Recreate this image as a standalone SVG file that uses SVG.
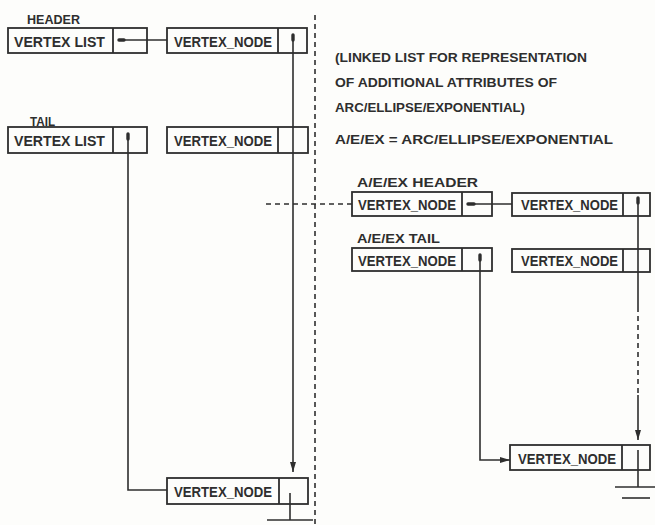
<svg xmlns="http://www.w3.org/2000/svg" width="655" height="525" viewBox="0 0 655 525">
<style>
.bx{fill:none;stroke:#2e2e2e;stroke-width:1.8}
.ln{fill:none;stroke:#2e2e2e;stroke-width:1.6}
.dash{fill:none;stroke:#2e2e2e;stroke-width:1.6;stroke-dasharray:5,4}
.stub{stroke:#2e2e2e;stroke-width:3.4;stroke-linecap:round}
.t{font-family:"Liberation Sans",Arial,sans-serif;font-weight:bold;fill:#2e2e2e}
.bt{font-size:15.5px}
.lb{font-size:13px}
</style>
<defs>
<marker id="ah" viewBox="0 0 10 6" refX="10" refY="3" markerWidth="10" markerHeight="6" markerUnits="userSpaceOnUse" orient="auto">
<path d="M0,0 L10,3 L0,6 Z" fill="#2e2e2e"/>
</marker>
</defs>
<rect width="655" height="525" fill="#fdfdfb"/>

<g id="labels">
<text class="t lb" x="27" y="24" textLength="53" lengthAdjust="spacingAndGlyphs">HEADER</text>
<text class="t lb" x="30" y="126" textLength="25" lengthAdjust="spacingAndGlyphs">TAIL</text>
<text class="t lb" x="335" y="62" textLength="252" lengthAdjust="spacingAndGlyphs">(LINKED LIST FOR REPRESENTATION</text>
<text class="t lb" x="335" y="87" textLength="222" lengthAdjust="spacingAndGlyphs">OF ADDITIONAL ATTRIBUTES OF</text>
<text class="t lb" x="335" y="112" textLength="190" lengthAdjust="spacingAndGlyphs">ARC/ELLIPSE/EXPONENTIAL)</text>
<text class="t lb" x="335" y="144" textLength="278" lengthAdjust="spacingAndGlyphs">A/E/EX = ARC/ELLIPSE/EXPONENTIAL</text>
<text class="t lb" x="357" y="187" textLength="121" lengthAdjust="spacingAndGlyphs">A/E/EX HEADER</text>
<text class="t lb" x="357" y="243" textLength="83" lengthAdjust="spacingAndGlyphs">A/E/EX TAIL</text>
</g>

<g id="header_list">
<rect class="bx" x="8" y="28" width="139" height="25"/>
<line class="bx" x1="113" y1="28" x2="113" y2="53"/>
<text class="t bt" x="14" y="46.5" textLength="91" lengthAdjust="spacingAndGlyphs">VERTEX LIST</text>
</g>
<g id="header_node">
<rect class="bx" x="167" y="28" width="140" height="25"/>
<line class="bx" x1="278" y1="28" x2="278" y2="53"/>
<text class="t bt" x="174" y="46.5" textLength="98" lengthAdjust="spacingAndGlyphs">VERTEX_NODE</text>
</g>
<g id="tail_list">
<rect class="bx" x="8" y="127" width="139" height="26"/>
<line class="bx" x1="113" y1="127" x2="113" y2="153"/>
<text class="t bt" x="14" y="146" textLength="91" lengthAdjust="spacingAndGlyphs">VERTEX LIST</text>
</g>
<g id="tail_node">
<rect class="bx" x="167" y="127" width="141" height="26"/>
<line class="bx" x1="278" y1="127" x2="278" y2="153"/>
<text class="t bt" x="174" y="146" textLength="98" lengthAdjust="spacingAndGlyphs">VERTEX_NODE</text>
</g>
<g id="bottom_node">
<rect class="bx" x="167" y="478" width="141" height="26"/>
<line class="bx" x1="279" y1="478" x2="279" y2="504"/>
<text class="t bt" x="174" y="497" textLength="98" lengthAdjust="spacingAndGlyphs">VERTEX_NODE</text>
</g>
<g id="aex_header_node">
<rect class="bx" x="352" y="192" width="140" height="24"/>
<line class="bx" x1="462" y1="192" x2="462" y2="216"/>
<text class="t bt" x="358" y="210" textLength="98" lengthAdjust="spacingAndGlyphs">VERTEX_NODE</text>
</g>
<g id="aex_header_next">
<rect class="bx" x="512" y="193" width="138" height="23"/>
<line class="bx" x1="623" y1="193" x2="623" y2="216"/>
<text class="t bt" x="521" y="210" textLength="97" lengthAdjust="spacingAndGlyphs">VERTEX_NODE</text>
</g>
<g id="aex_tail_node">
<rect class="bx" x="352" y="248" width="140" height="23"/>
<line class="bx" x1="462" y1="248" x2="462" y2="271"/>
<text class="t bt" x="358" y="265.5" textLength="98" lengthAdjust="spacingAndGlyphs">VERTEX_NODE</text>
</g>
<g id="aex_tail_next">
<rect class="bx" x="512" y="249" width="138" height="23"/>
<line class="bx" x1="623" y1="249" x2="623" y2="272"/>
<text class="t bt" x="521" y="266" textLength="97" lengthAdjust="spacingAndGlyphs">VERTEX_NODE</text>
</g>
<g id="aex_bottom_node">
<rect class="bx" x="510" y="445" width="140" height="25"/>
<line class="bx" x1="622" y1="445" x2="622" y2="470"/>
<text class="t bt" x="518" y="463.5" textLength="98" lengthAdjust="spacingAndGlyphs">VERTEX_NODE</text>
</g>

<g id="connectors">
<line class="dash" x1="315" y1="15" x2="315" y2="525"/>
<line class="dash" x1="266" y1="204" x2="352" y2="204"/>
<line class="stub" x1="119" y1="40" x2="124" y2="40"/>
<line class="ln" x1="119" y1="40" x2="167" y2="40"/>
<line class="stub" x1="293" y1="35" x2="293" y2="40"/>
<line class="ln" x1="293" y1="35" x2="293" y2="472" marker-end="url(#ah)"/>
<line class="stub" x1="128" y1="134" x2="128" y2="139"/>
<polyline class="ln" points="128,134 128,490 167,490"/>
<line class="ln" x1="290" y1="493" x2="290" y2="520"/>
<line class="ln" x1="267" y1="520" x2="313" y2="520"/>
<line class="stub" x1="468" y1="204" x2="474" y2="204"/>
<line class="ln" x1="468" y1="204" x2="512" y2="204"/>
<line class="stub" x1="638" y1="198" x2="638" y2="203"/>
<line class="ln" x1="638" y1="198" x2="638" y2="307"/>
<line class="dash" x1="638" y1="307" x2="638" y2="395"/>
<line class="ln" x1="638" y1="395" x2="638" y2="440" marker-end="url(#ah)"/>
<line class="stub" x1="480" y1="255" x2="480" y2="260"/>
<polyline class="ln" points="480,255 480,460 510,460" marker-end="url(#ah)"/>
<line class="ln" x1="638" y1="450" x2="638" y2="487"/>
<line class="ln" x1="615" y1="487" x2="655" y2="487"/>
<line class="ln" x1="622" y1="498" x2="650" y2="498"/>
</g>
</svg>
